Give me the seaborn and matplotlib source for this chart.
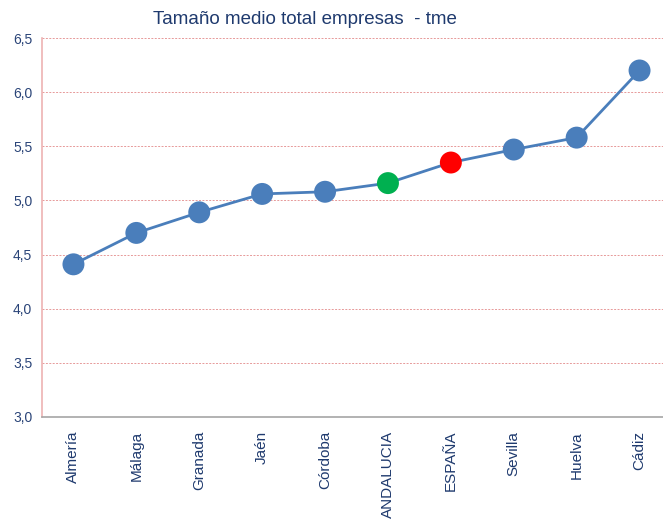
import matplotlib
matplotlib.use("Agg")
import matplotlib.pyplot as plt
import seaborn as sns
import pandas as pd
from matplotlib.ticker import FuncFormatter, MultipleLocator

categories = ["Almería", "Málaga", "Granada", "Jaén", "Córdoba", "ANDALUCIA",
              "ESPAÑA", "Sevilla", "Huelva", "Cádiz"]
values = [4.41, 4.70, 4.89, 5.06, 5.08, 5.16, 5.35, 5.47, 5.58, 6.20]
point_colors = ["#4A7EBB", "#4A7EBB", "#4A7EBB", "#4A7EBB", "#4A7EBB",
                "#00B050", "#FF0000", "#4A7EBB", "#4A7EBB", "#4A7EBB"]
title = "Tamaño medio total empresas  - tme"

df = pd.DataFrame({"cat": categories, "val": values, "x": range(len(categories))})

sns.set_style("white")
plt.rcParams["font.family"] = ["Liberation Sans Narrow", "Liberation Sans", "DejaVu Sans"]

fig = plt.figure(figsize=(6.63, 5.24), dpi=100)
W, H = 663, 524
ax = fig.add_axes([42 / W, 1 - 417 / H, (671 - 42) / W, (417 - 38) / H])

sns.lineplot(data=df, x="x", y="val", ax=ax, color="#4A7EBB", linewidth=2.0, zorder=2)
sns.scatterplot(data=df, x="x", y="val", ax=ax, hue="cat", palette=point_colors,
                s=250, edgecolor="none", legend=False, zorder=3)

ax.set_xlim(-0.5, len(categories) - 0.5)
ax.set_ylim(3.0, 6.5)
ax.yaxis.set_major_locator(MultipleLocator(0.5))
ax.yaxis.set_major_formatter(FuncFormatter(lambda v, p: f"{v:.1f}".replace(".", ",")))
ax.set_xticks(range(len(categories)))
ax.set_xticklabels(categories, rotation=90)
ax.set_xticks([i - 0.5 for i in range(len(categories) + 1)], minor=True)
ax.tick_params(axis="x", which="major", length=0, pad=10, labelsize=11, labelcolor="#1F3A6E")
ax.tick_params(axis="x", which="minor", length=5, width=1, color="#A6A6A6", direction="out")
ax.tick_params(axis="y", length=4, width=1, color="#E6A0A0", labelsize=10, labelcolor="#2A4478", pad=3)
ax.set_xlabel("")
ax.set_ylabel("")

ax.grid(axis="y", color="#E08080", linestyle=(0, (2, 1.5)), linewidth=0.7, alpha=0.8)
ax.set_axisbelow(True)
for s in ["top", "right"]:
    ax.spines[s].set_visible(False)
ax.spines["left"].set_color("#EDB3B3")
ax.spines["left"].set_linewidth(1.2)
ax.spines["bottom"].set_color("#A6A6A6")
ax.spines["bottom"].set_linewidth(1.2)

fig.text(305 / W, 1 - 20 / H, title, ha="center", va="center", fontsize=13.5, color="#1F3A6E")

fig.savefig("out.png", dpi=100)
